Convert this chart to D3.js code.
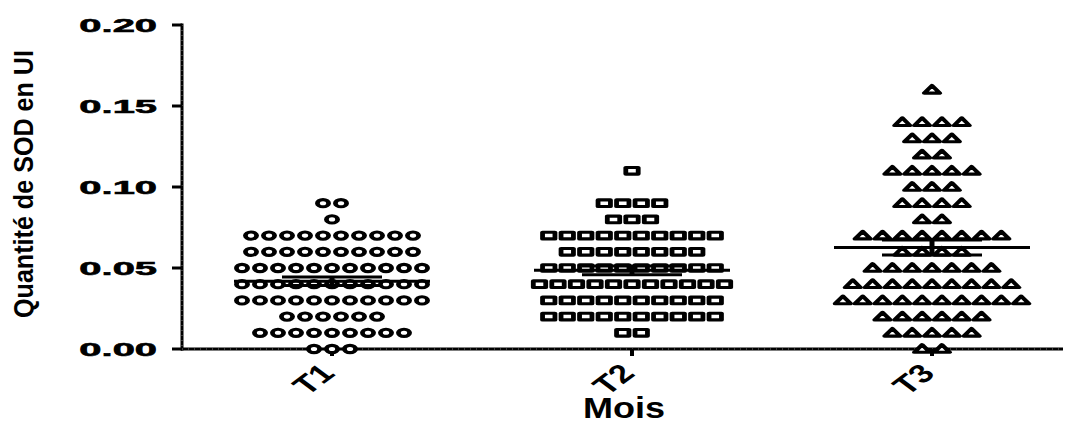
<!DOCTYPE html>
<html>
<head>
<meta charset="utf-8">
<script src="https://d3js.org/d3.v7.min.js"></script>
<style>
    body { margin: 0; background: #fff; }
    text { font-family: "Liberation Sans", Arial, sans-serif; fill: #000; }
</style>
</head>
<body>
<script>
// Catégories (mois) et valeurs : niveau + nombre de points par ligne
let categories = ["T1", "T2", "T3"];

let t1Levels = [0.00, 0.01, 0.02, 0.03, 0.04, 0.05, 0.06, 0.07, 0.08, 0.09];
let t1Counts = [3, 9, 6, 11, 11, 11, 10, 10, 1, 2];

let t2Levels = [0.01, 0.02, 0.03, 0.04, 0.05, 0.06, 0.07, 0.08, 0.09, 0.11];
let t2Counts = [2, 10, 10, 11, 10, 8, 10, 3, 4, 1];

let t3Levels = [0.00, 0.01, 0.02, 0.03, 0.04, 0.05, 0.06, 0.07, 0.08, 0.09, 0.10, 0.11, 0.12, 0.13, 0.14, 0.16];
let t3Counts = [2, 5, 6, 10, 9, 7, 4, 8, 2, 4, 3, 5, 2, 3, 4, 1];

let yTicks = [0, 0.05, 0.10, 0.15, 0.20];

let WIDTH = 1068, HEIGHT = 426;

let svg = d3.select("body").append("svg")
    .attr("width", WIDTH)
    .attr("height", HEIGHT);

let x = d3.scalePoint().domain(categories).range([182, 1082]).padding(0.5);
let y = d3.scaleLinear().domain([0, 0.20]).range([349, 25]);

// étaler les points d'une même valeur horizontalement
function expand(cat, levels, counts, spacing) {
    let pts = [];
    levels.forEach((v, i) => {
        let n = counts[i];
        for (let k = 0; k < n; k++) {
            pts.push({cat: cat, value: v, dx: (k - (n - 1) / 2) * spacing});
        }
    });
    return pts;
}

let groups = [
    {cat: "T1", shape: "circle",   pts: expand("T1", t1Levels, t1Counts, 18)},
    {cat: "T2", shape: "square",   pts: expand("T2", t2Levels, t2Counts, 18.5)},
    {cat: "T3", shape: "triangle", pts: expand("T3", t3Levels, t3Counts, 19.8)}
];

// axes
let axisG = svg.append("g");
axisG.append("line")
    .attr("x1", 182).attr("x2", 182)
    .attr("y1", y(0.20) - 1.5).attr("y2", y(0) + 1.5)
    .attr("stroke", "#000").attr("stroke-width", 3);
axisG.append("line")
    .attr("x1", 181).attr("x2", 1063)
    .attr("y1", y(0)).attr("y2", y(0))
    .attr("stroke", "#000").attr("stroke-width", 3);
// petite texture des axes
axisG.append("line")
    .attr("x1", 182).attr("x2", 182)
    .attr("y1", y(0.20)).attr("y2", y(0))
    .attr("stroke", "#777").attr("stroke-width", 1).attr("stroke-dasharray", "1 4");
axisG.append("line")
    .attr("x1", 182).attr("x2", 1063)
    .attr("y1", y(0)).attr("y2", y(0))
    .attr("stroke", "#777").attr("stroke-width", 1).attr("stroke-dasharray", "1 5");

axisG.selectAll(".ytick").data(yTicks).enter()
    .append("line")
    .attr("x1", 172).attr("x2", 182)
    .attr("y1", d => y(d)).attr("y2", d => y(d))
    .attr("stroke", "#000").attr("stroke-width", 3);

axisG.selectAll(".ylab").data(yTicks).enter()
    .append("text")
    .attr("transform", d => "translate(157," + y(d) + ") scale(2.1,1)")
    .attr("text-anchor", "end")
    .attr("dy", "0.36em")
    .attr("font-size", 19)
    .attr("font-weight", "bold")
    .attr("stroke", "#000")
    .attr("stroke-width", 0.6)
    .text(d => d3.format(".2f")(d));

axisG.selectAll(".xtick").data(categories).enter()
    .append("line")
    .attr("x1", d => x(d)).attr("x2", d => x(d))
    .attr("y1", y(0)).attr("y2", y(0) + 7)
    .attr("stroke", "#000").attr("stroke-width", 4);

axisG.selectAll(".xlab").data(categories).enter()
    .append("text")
    .attr("transform", d => "translate(" + (x(d) - 19) + ",379) scale(1.35,1) rotate(-45)")
    .attr("text-anchor", "middle")
    .attr("dy", "0.36em")
    .attr("font-size", 26)
    .attr("font-weight", "bold")
    .text(d => d);

svg.append("text")
    .attr("transform", "translate(624,418) scale(1.2,1)")
    .attr("text-anchor", "middle")
    .attr("font-size", 30)
    .attr("font-weight", "bold")
    .text("Mois");

svg.append("text")
    .attr("transform", "translate(33,184) rotate(-90)")
    .attr("text-anchor", "middle")
    .attr("font-size", 27)
    .attr("font-weight", "bold")
    .attr("textLength", 268)
    .attr("lengthAdjust", "spacingAndGlyphs")
    .text("Quantité de SOD en UI");

// points (symboles étirés horizontalement comme dans l'original)
let tri = "M-5,3.3 L0,-4.3 L5,3.3 Z";
groups.forEach(g => {
    let sel = svg.append("g").selectAll("g").data(g.pts).enter()
        .append("g")
        .attr("transform", d => "translate(" + (x(d.cat) + d.dx) + "," + y(d.value) + ") scale(1.55,1)");
    if (g.shape === "circle") {
        sel.append("circle").attr("r", 3.6);
    } else if (g.shape === "square") {
        sel.append("rect").attr("x", -4).attr("y", -3.3).attr("width", 8).attr("height", 6.6);
    } else {
        sel.append("path").attr("d", tri);
    }
    sel.selectAll("*")
        .attr("fill", "#fff")
        .attr("stroke", "#000")
        .attr("stroke-width", 3.1)
        .attr("stroke-linejoin", "round");
});

// moyenne et erreur standard
let stats = groups.map(g => {
    let vals = g.pts.map(p => p.value);
    let m = d3.mean(vals);
    let sem = d3.deviation(vals) / Math.sqrt(vals.length);
    return {cat: g.cat, mean: m, sem: sem};
});

let errG = svg.append("g").selectAll("g").data(stats).enter().append("g");
errG.append("line")
    .attr("x1", d => x(d.cat) - 98).attr("x2", d => x(d.cat) + 98)
    .attr("y1", d => y(d.mean)).attr("y2", d => y(d.mean))
    .attr("stroke", "#000").attr("stroke-width", 3);
errG.append("line")
    .attr("x1", d => x(d.cat)).attr("x2", d => x(d.cat))
    .attr("y1", d => y(d.mean + d.sem)).attr("y2", d => y(d.mean - d.sem))
    .attr("stroke", "#000").attr("stroke-width", 5);
[1, -1].forEach(s => {
    errG.append("line")
        .attr("x1", d => x(d.cat) - 50).attr("x2", d => x(d.cat) + 50)
        .attr("y1", d => y(d.mean + s * d.sem)).attr("y2", d => y(d.mean + s * d.sem))
        .attr("stroke", "#000").attr("stroke-width", 3);
});
</script>
</body>
</html>
